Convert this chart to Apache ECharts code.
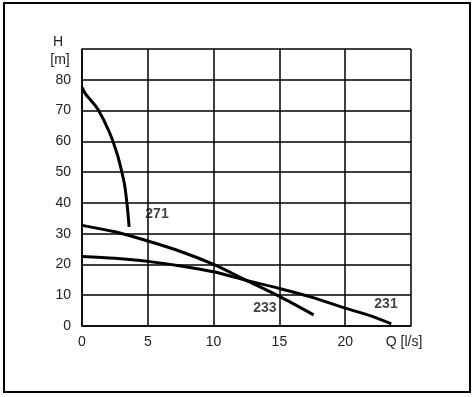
<!DOCTYPE html>
<html>
<head>
<meta charset="utf-8">
<script src="https://cdn.jsdelivr.net/npm/echarts@6/dist/echarts.min.js"></script>
<style>
  html, body { margin: 0; padding: 0; background: #fff; }
  #chart { width: 475px; height: 397px; }
</style>
</head>
<body>
<div id="chart"></div>
<script>
// pump curves, [Q l/s, H m]
const curve271 = [[0, 77.5], [0.3, 75.2], [0.6, 73.7], [1.2, 70.5], [2.1, 62.8], [2.7, 55.5], [3.0, 50.5], [3.25, 45.5], [3.45, 38.5], [3.58, 32.2]];
const curve233 = [[0, 32.7], [2.5, 30.6], [5, 27.6], [7.5, 24.2], [10, 20.0], [12.5, 14.8], [15, 9.6], [17.6, 3.6]];
const curve231 = [[0, 22.6], [2.5, 22.0], [5, 21.0], [7.5, 19.5], [10, 17.6], [12.5, 14.8], [15, 12.2], [17.5, 9.3], [20, 5.8], [22, 3.2], [23.5, 0.7]];

const curveNames = ['271', '233', '231'];
// where the curve numbers sit, [Q, H]
const labelPoints = [[5.7, 36.4], [13.9, 5.7], [23.1, 7.2]];

const xTicks = [0, 5, 10, 15, 20];
const yTicks = [0, 10, 20, 30, 40, 50, 60, 70, 80];

const chart = echarts.init(document.getElementById('chart'));

const lineStyle = { color: '#000', width: 3 };

const option = {
  animation: false,
  backgroundColor: '#fff',
  grid: { left: 82, right: 64, top: 49, bottom: 71 },
  xAxis: {
    type: 'value',
    min: 0,
    max: 25,
    interval: 5,
    axisLine: { show: true, lineStyle: { color: '#000', width: 1.5 } },
    axisTick: { show: false },
    splitLine: { show: true, lineStyle: { color: '#000', width: 1.5 } },
    axisLabel: {
      color: '#222',
      fontSize: 14,
      fontFamily: 'Liberation Sans',
      margin: 9,
      formatter: v => (xTicks.includes(v) ? String(v) : '')
    }
  },
  yAxis: {
    type: 'value',
    min: 0,
    max: 90,
    interval: 10,
    axisLine: { show: true, lineStyle: { color: '#000', width: 1.5 } },
    axisTick: { show: false },
    splitLine: { show: true, lineStyle: { color: '#000', width: 1.5 } },
    axisLabel: {
      color: '#222',
      fontSize: 14,
      fontFamily: 'Liberation Sans',
      margin: 11,
      formatter: v => (yTicks.includes(v) ? String(v) : '')
    }
  },
  graphic: [
    { type: 'rect', shape: { x: 4, y: 3, width: 466, height: 389 }, style: { fill: 'none', stroke: '#000', lineWidth: 2 } },
    { type: 'text', x: 58, y: 42, style: { text: 'H', font: '14px Liberation Sans', fill: '#222', align: 'center', verticalAlign: 'middle' } },
    { type: 'text', x: 60, y: 60, style: { text: '[m]', font: '14px Liberation Sans', fill: '#222', align: 'center', verticalAlign: 'middle' } },
    { type: 'text', x: 404, y: 342, style: { text: 'Q [l/s]', font: '14px Liberation Sans', fill: '#222', align: 'center', verticalAlign: 'middle' } }
  ],
  series: [
    { name: '271', type: 'line', data: curve271, smooth: 0.3, showSymbol: false, lineStyle },
    { name: '233', type: 'line', data: curve233, smooth: 0.3, showSymbol: false, lineStyle },
    { name: '231', type: 'line', data: curve231, smooth: 0.3, showSymbol: false, lineStyle },
    {
      type: 'scatter',
      symbolSize: 0,
      data: labelPoints.map((p, i) => ({ value: p, name: curveNames[i] })),
      label: {
        show: true,
        position: 'inside',
        formatter: p => p.name,
        color: '#111',
        fontSize: 14,
        fontWeight: 'bold',
        fontFamily: 'Liberation Sans'
      }
    }
  ]
};

chart.setOption(option);
</script>
</body>
</html>
